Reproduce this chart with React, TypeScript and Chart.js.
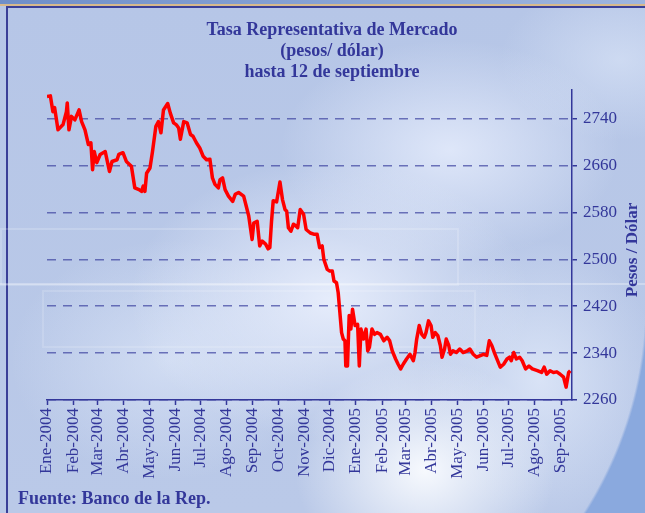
import React, { useEffect, useRef } from "react";
import { Chart, registerables } from "chart.js";

Chart.register(...registerables);

// Días transcurridos desde el 1 de enero de 2004
const dias = [
  0, 4, 7, 9, 13, 19, 23, 24, 26, 29, 33, 38, 41, 45, 49, 52, 54, 56, 59, 63,
  69, 74, 77, 83, 85, 90, 94, 100, 104, 109, 112, 114, 116, 118, 122, 125, 129, 132, 135, 138,
  143, 146, 150, 153, 156, 158, 162, 166, 170, 173, 177, 181, 185, 189, 193, 196, 199, 203, 205, 208,
  211, 215, 220, 223, 227, 233, 236, 239, 243, 245, 249, 252, 255, 259, 262, 264, 266, 268, 272, 274,
  276, 279, 282, 284, 286, 289, 292, 295, 297, 300, 304, 307, 312, 316, 320, 323, 326, 328, 332, 335,
  338, 340, 343, 345, 347, 349, 351, 353, 354, 356, 358, 360, 362, 365, 368, 370, 372, 375, 378, 380,
  382, 385, 388, 391, 395, 399, 403, 406, 409, 413, 416, 419, 422, 426, 430, 434, 436, 438, 441, 444,
  447, 449, 452, 455, 457, 460, 463, 466, 468, 471, 473, 476, 478, 481, 485, 489, 493, 498, 501, 505,
  509, 514, 517, 521, 524, 527, 530, 533, 537, 541, 545, 548, 550, 553, 556, 560, 563, 567, 571, 575,
  581, 586, 589, 592, 596, 600, 604, 608, 612, 615, 618, 620,
];

// Tasa representativa del mercado (pesos por dólar)
const tasa = [
  2778, 2779, 2752, 2759, 2721, 2730, 2752, 2767, 2721, 2744, 2738, 2755, 2735, 2721, 2696, 2699, 2653, 2684, 2665, 2679,
  2684, 2650, 2667, 2670, 2679, 2682, 2667, 2659, 2622, 2619, 2616, 2625, 2616, 2647, 2656, 2684, 2727, 2735, 2716, 2755,
  2766, 2750, 2733, 2730, 2724, 2705, 2735, 2733, 2713, 2710, 2699, 2690, 2676, 2670, 2671, 2639, 2628, 2622, 2636, 2639,
  2619, 2608, 2599, 2611, 2614, 2608, 2591, 2574, 2534, 2562, 2565, 2523, 2531, 2526, 2518, 2520, 2565, 2600, 2598, 2615,
  2632, 2602, 2585, 2582, 2554, 2548, 2560, 2557, 2554, 2585, 2577, 2551, 2545, 2543, 2543, 2520, 2523, 2500, 2483, 2480,
  2480, 2463, 2460, 2443, 2409, 2375, 2364, 2361, 2318, 2318, 2404, 2381, 2415, 2387, 2389, 2318, 2381, 2364, 2381, 2344,
  2350, 2381, 2372, 2375, 2372, 2361, 2367, 2361, 2344, 2330, 2321, 2313, 2321, 2330, 2338, 2327, 2341, 2364, 2387, 2372,
  2367, 2375, 2395, 2387, 2367, 2375, 2370, 2353, 2333, 2347, 2364, 2353, 2338, 2344, 2341, 2347, 2341, 2344, 2347, 2338,
  2333, 2336, 2338, 2336, 2361, 2353, 2341, 2330, 2316, 2321, 2330, 2333, 2327, 2341, 2330, 2333, 2327, 2313, 2318, 2313,
  2310, 2307, 2316, 2304, 2310, 2307, 2308, 2304, 2299, 2282, 2307, 2310,
];

const meses = [
  "Ene-2004", "Feb-2004", "Mar-2004", "Abr-2004", "May-2004", "Jun-2004", "Jul-2004",
  "Ago-2004", "Sep-2004", "Oct-2004", "Nov-2004", "Dic-2004", "Ene-2005", "Feb-2005",
  "Mar-2005", "Abr-2005", "May-2005", "Jun-2005", "Jul-2005", "Ago-2005", "Sep-2005",
];

const ticksY = [2260, 2340, 2420, 2500, 2580, 2660, 2740];

const titulo = ["Tasa Representativa de Mercado", "(pesos/ dólar)", "hasta 12 de septiembre"];
const tituloEje = "Pesos / Dólar";
const fuente = "Fuente: Banco de la Rep.";

const AZUL = "#33379a";
const SERIF = "'Liberation Serif', 'Times New Roman', serif";

const inicioMes = meses.map((_, i) => {
  const d = Date.UTC(2004, i, 1) - Date.UTC(2004, 0, 1);
  return Math.round(d / 86400000);
});

const textos = {
  id: "textos",
  afterDraw(chart: any) {
    const ctx = chart.ctx;
    ctx.save();
    ctx.fillStyle = AZUL;
    ctx.textBaseline = "middle";
    ctx.textAlign = "center";
    ctx.font = `bold 18px ${SERIF}`;
    titulo.forEach((t, i) => ctx.fillText(t, 332, 30 + i * 21));
    ctx.textAlign = "left";
    ctx.font = `bold 18px ${SERIF}`;
    ctx.fillText(fuente, 18, 499);
    ctx.translate(633, 250);
    ctx.rotate(-Math.PI / 2);
    ctx.textAlign = "center";
    ctx.font = `bold 17px ${SERIF}`;
    ctx.fillText(tituloEje, 0, 0);
    ctx.restore();
  },
};

export default function App() {
  const ref = useRef<HTMLCanvasElement>(null);

  useEffect(() => {
    if (!ref.current) return;
    const chart = new Chart(ref.current, {
      type: "line",
      data: {
        datasets: [
          {
            data: dias.map((d, i) => ({ x: d, y: tasa[i] })),
            borderColor: "#ff0000",
            borderWidth: 3.5,
            pointRadius: 0,
            tension: 0,
            borderJoinStyle: "round",
          },
        ],
      },
      options: {
        animation: false,
        responsive: false,
        devicePixelRatio: 1,
        layout: { padding: { left: 47, top: 90, right: 0, bottom: 0 } },
        plugins: { legend: { display: false }, tooltip: { enabled: false }, title: { display: false } },
        scales: {
          x: {
            type: "linear",
            min: 0,
            max: 622,
            afterBuildTicks: (s: any) => {
              s.ticks = inicioMes.map((v) => ({ value: v }));
            },
            afterFit: (s: any) => {
              s.height = 113;
            },
            ticks: {
              autoSkip: false,
              minRotation: 90,
              maxRotation: 90,
              padding: 3,
              color: AZUL,
              font: { family: SERIF, size: 17 },
              callback: (_v: any, i: number) => meses[i],
            },
            grid: { drawOnChartArea: false, drawTicks: true, tickLength: 5, tickColor: AZUL, tickWidth: 1.5 },
            border: { display: true, color: AZUL, width: 1.5 },
          },
          y: {
            position: "right",
            min: 2260,
            max: 2789,
            afterBuildTicks: (s: any) => {
              s.ticks = ticksY.map((v) => ({ value: v }));
            },
            afterFit: (s: any) => {
              s.width = 73;
            },
            ticks: {
              padding: 6,
              color: AZUL,
              font: { family: SERIF, size: 17 },
              callback: (v: any) => String(v),
            },
            grid: {
              color: "rgba(60,66,160,0.7)",
              lineWidth: 1.5,
              drawTicks: true,
              tickLength: 5,
              tickColor: AZUL,
              tickBorderDash: [],
              tickWidth: 1.5,
            },
            border: { display: true, color: AZUL, width: 1.5, dash: [9, 7] },
          },
        },
      } as any,
      plugins: [textos],
    });
    return () => chart.destroy();
  }, []);

  return (
    <div
      style={{
        position: "fixed",
        left: 0,
        top: 0,
        width: 645,
        height: 513,
        overflow: "hidden",
        background:
          "radial-gradient(ellipse 130px 110px at 425px 470px, rgba(250,252,255,0.95), rgba(250,252,255,0) 100%)," +
          "radial-gradient(ellipse 200px 140px at 330px 300px, rgba(238,243,255,0.85), rgba(238,243,255,0) 100%)," +
          "radial-gradient(ellipse 170px 110px at 450px 150px, rgba(235,241,255,0.75), rgba(235,241,255,0) 100%)," +
          "radial-gradient(ellipse 120px 140px at 540px 380px, rgba(230,238,252,0.7), rgba(230,238,252,0) 100%)," +
          "radial-gradient(ellipse 160px 120px at 170px 360px, rgba(225,234,250,0.6), rgba(225,234,250,0) 100%)," +
          "radial-gradient(ellipse 120px 80px at 620px 60px, rgba(215,226,246,0.7), rgba(215,226,246,0) 100%)," +
          "linear-gradient(180deg, #b6c6e7 0%, #bac9e8 100%)",
      }}
    >
      <div style={{ position: "absolute", left: 0, top: 0, width: 645, height: 4, background: "linear-gradient(90deg,#6f8fc9,#9fb6df)" }} />
      <div style={{ position: "absolute", left: 0, top: 4, width: 645, height: 2, background: "#d7b98c" }} />
      <div style={{ position: "absolute", left: 6, top: 6, width: 645, height: 513, borderLeft: "2px solid #3a3f98", borderTop: "2px solid #3a3f98" }} />
      <div
        style={{
          position: "absolute",
          left: 540,
          top: 300,
          width: 105,
          height: 213,
          background: "radial-gradient(circle 398px at -290px 0px, rgba(0,0,0,0) 99.3%, #8aa9de 100%)",
        }}
      />
      <div style={{ position: "absolute", left: 0, top: 228, width: 455, height: 54, border: "2px solid rgba(255,255,255,0.18)" }} />
      <div style={{ position: "absolute", left: 42, top: 290, width: 430, height: 54, border: "2px solid rgba(255,255,255,0.15)" }} />
      <div style={{ position: "absolute", left: 0, top: 283, width: 645, height: 2, background: "rgba(255,255,255,0.3)" }} />
      <canvas ref={ref} width={645} height={513} style={{ position: "absolute", left: 0, top: 0 }} />
    </div>
  );
}
